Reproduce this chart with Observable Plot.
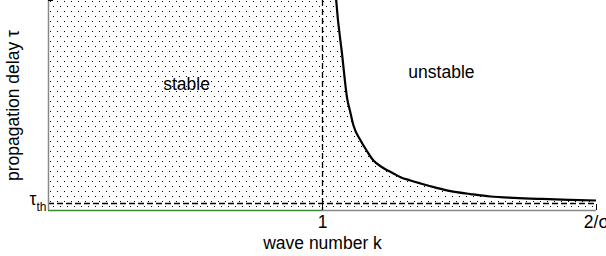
<!DOCTYPE html>
<html><head><meta charset="utf-8">
<script src="https://cdn.jsdelivr.net/npm/d3@7"></script>
<script src="https://cdn.jsdelivr.net/npm/@observablehq/plot@0.6"></script>
<style>body{margin:0;background:#fff}</style>
</head><body><div id="chart"></div>
<script>
// wave number k (in units of 1/σ) and propagation delay τ (arbitrary units)
const curveK   = [1.040, 1.050, 1.072, 1.090, 1.100, 1.113, 1.139, 1.161, 1.186, 1.219, 1.259, 1.285, 1.321, 1.358, 1.410, 1.467, 1.540, 1.613, 1.700, 1.800, 1.900, 2.000];
const curveTau = [3.600, 3.000, 2.214, 1.600, 1.429, 1.214, 1.000, 0.857, 0.714, 0.614, 0.529, 0.476, 0.429, 0.386, 0.330, 0.276, 0.235, 0.200, 0.180, 0.165, 0.153, 0.143];
const tauTh = 0.1;
const tauMax = 3;
const kMax = 2;
const xTickValues = [1, 2];
const xTickLabels = ["1", "2/σ"];
const regionLabels = [{k: 0.504, t: 1.80, text: "stable"}, {k: 1.434, t: 1.97, text: "unstable"}];

const curve = curveK.map((k, i) => ({k, t: curveTau[i]}));
const area = [{k: 0, t: tauMax}, ...curve];
const font = "Liberation Sans, Arial, sans-serif";
const fs = 17.5;

const svg = Plot.plot({
  width: 606, height: 256,
  marginLeft: 48, marginRight: 10, marginTop: 0, marginBottom: 46,
  style: {fontFamily: font, fontSize: fs + "px", background: "#fff", color: "#000"},
  x: {domain: [0, kMax]},
  y: {domain: [0, tauMax]},
  marks: [
    Plot.areaY(area, {x: "k", y: "t", fill: "url(#dots)", curve: "monotone-x", clip: true}),
    Plot.ruleX([1], {stroke: "#000", strokeWidth: 1.3, strokeDasharray: "6,3"}),
    Plot.ruleY([tauTh], {stroke: "#000", strokeWidth: 1.3, strokeDasharray: "6,3"}),
    Plot.line(curve, {x: "k", y: "t", stroke: "#000", strokeWidth: 2.2, curve: "monotone-x", clip: true}),
    Plot.ruleY([0], {x1: 1, x2: kMax, stroke: "#888", strokeWidth: 1.5}),
    Plot.ruleY([0], {x1: 0, x2: 1, stroke: "#3a8a3a", strokeWidth: 1.6}),
    Plot.ruleX([0], {stroke: "#888", strokeWidth: 1.5}),
    Plot.tickX(xTickValues, {x: d => d, stroke: "#000", insetTop: 204}),
    Plot.tickY([tauMax], {y: d => d, stroke: "#000", insetRight: 543}),
    Plot.axisX(xTickValues, {tickSize: 0, tickPadding: 5, tickFormat: d => xTickLabels[xTickValues.indexOf(d)], fontSize: fs,
      label: "wave number k", labelAnchor: "center", labelArrow: "none", labelOffset: 38}),
    Plot.axisY([], {label: "propagation delay τ", labelAnchor: "center", labelArrow: "none", labelOffset: 42, fontSize: fs}),
    Plot.text(["τ"], {x: 0, y: tauTh, dx: -12, dy: -4, textAnchor: "end", fontSize: fs}),
    Plot.text(["th"], {x: 0, y: tauTh, dx: -2, dy: 4, textAnchor: "end", fontSize: 12}),
    Plot.text(regionLabels, {x: "k", y: "t", text: "text", fontSize: fs})
  ]
});

const defs = d3.select(svg).insert("defs", ":first-child");
const pat = defs.append("pattern").attr("id", "dots").attr("patternUnits", "userSpaceOnUse")
  .attr("width", 7).attr("height", 10);
pat.append("rect").attr("x", 1).attr("y", 1).attr("width", 1).attr("height", 1).attr("fill", "#000");
pat.append("rect").attr("x", 4).attr("y", 6).attr("width", 1).attr("height", 1).attr("fill", "#000");

document.getElementById("chart").appendChild(svg);
</script>
</body></html>
